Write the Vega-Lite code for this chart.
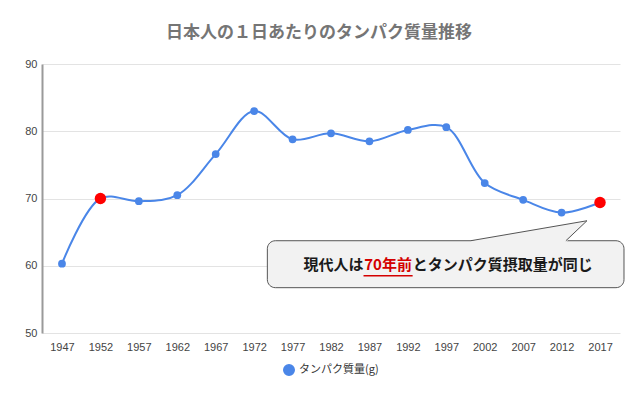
{
  "$schema": "https://vega.github.io/schema/vega-lite/v6.json",
  "autosize": "none",
  "width": 578,
  "height": 269,
  "padding": {"left": 42, "top": 64, "right": 20, "bottom": 67},
  "background": "white",
  "config": {
    "font": "Noto Sans CJK JP",
    "view": {"stroke": null},
    "axis": {"labelFont": "Liberation Sans", "labelFontSize": 11, "labelColor": "#444444", "ticks": false, "titleFont": "Liberation Sans"},
    "legend": {"layout": {"bottom": {"anchor": "middle"}}}
  },
  "title": {
    "text": "日本人の１日あたりのタンパク質量推移",
    "font": "Noto Sans CJK JP",
    "fontSize": 17,
    "fontWeight": "bold",
    "color": "#757575",
    "anchor": "middle",
    "frame": "group",
    "offset": 16,
    "dx": -12
  },
  "datasets": {
    "protein": [
      {"year": 1947, "value": 60.3},
      {"year": 1952, "value": 70.0},
      {"year": 1957, "value": 69.6},
      {"year": 1962, "value": 70.5},
      {"year": 1967, "value": 76.6},
      {"year": 1972, "value": 83.0},
      {"year": 1977, "value": 78.8},
      {"year": 1982, "value": 79.7},
      {"year": 1987, "value": 78.5},
      {"year": 1992, "value": 80.2},
      {"year": 1997, "value": 80.6},
      {"year": 2002, "value": 72.3},
      {"year": 2007, "value": 69.8},
      {"year": 2012, "value": 67.9},
      {"year": 2017, "value": 69.4}
    ],
    "tail_fill": [
      {"x": 2000.18, "y": 63.72, "y2": 63.5},
      {"x": 2012.56, "y": 66.15, "y2": 63.5},
      {"x": 2015.30, "y": 66.69, "y2": 66.69}
    ],
    "tail_edge": [
      {"i": 1, "x": 2000.18, "y": 63.72},
      {"i": 2, "x": 2015.30, "y": 66.69},
      {"i": 3, "x": 2012.56, "y": 63.72}
    ],
    "one": [{}]
  },
  "layer": [
    {
      "data": {"name": "protein"},
      "mark": {"type": "line", "interpolate": "catmull-rom", "strokeWidth": 2},
      "encoding": {
        "x": {
          "field": "year", "type": "quantitative",
          "scale": {"domain": [1944.4, 2019.6], "nice": false, "zero": false},
          "axis": {"title": null, "values": [1947,1952,1957,1962,1967,1972,1977,1982,1987,1992,1997,2002,2007,2012,2017], "format": "d", "grid": false, "domain": false, "labelPadding": 8, "labelFlush": false}
        },
        "y": {
          "field": "value", "type": "quantitative",
          "scale": {"domain": [50, 90], "nice": false, "zero": false},
          "axis": {"title": null, "values": [50,60,70,80,90], "gridColor": "#e3e3e3", "gridWidth": 1.2, "domainColor": "#9a9a9a", "domainWidth": 2, "labelPadding": 5}
        },
        "color": {
          "datum": "タンパク質量(g)",
          "scale": {"range": ["#4a86e8"]},
          "legend": {"orient": "bottom", "title": null, "symbolType": "circle", "symbolSize": 110, "symbolFillColor": "#4a86e8", "symbolStrokeColor": "#4a86e8", "labelFont": "Noto Sans CJK JP", "labelFontSize": 11, "labelColor": "#333333", "offset": 12, "direction": "horizontal"}
        }
      }
    },
    {
      "data": {"name": "protein"},
      "mark": {"type": "point", "filled": true, "opacity": 1, "size": 60},
      "encoding": {
        "x": {"field": "year", "type": "quantitative"},
        "y": {"field": "value", "type": "quantitative"},
        "color": {"datum": "タンパク質量(g)"}
      }
    },
    {
      "data": {"name": "protein"},
      "transform": [{"filter": {"field": "year", "oneOf": [1952, 2017]}}],
      "mark": {"type": "point", "filled": true, "opacity": 1, "size": 130, "color": "#ff0000"},
      "encoding": {
        "x": {"field": "year", "type": "quantitative"},
        "y": {"field": "value", "type": "quantitative"}
      }
    },
    {
      "data": {"name": "one"},
      "mark": {"type": "rect", "fill": "#f2f2f2", "stroke": "#555555", "strokeWidth": 1, "cornerRadius": 8},
      "encoding": {
        "x": {"datum": 1973.72, "type": "quantitative"},
        "x2": {"datum": 2020.12},
        "y": {"datum": 63.72, "type": "quantitative"},
        "y2": {"datum": 56.74}
      }
    },
    {
      "data": {"name": "tail_fill"},
      "mark": {"type": "area", "fill": "#f2f2f2", "opacity": 1},
      "encoding": {
        "x": {"field": "x", "type": "quantitative"},
        "y": {"field": "y", "type": "quantitative"},
        "y2": {"field": "y2"}
      }
    },
    {
      "data": {"name": "tail_edge"},
      "mark": {"type": "line", "color": "#555555", "strokeWidth": 1},
      "encoding": {
        "x": {"field": "x", "type": "quantitative"},
        "y": {"field": "y", "type": "quantitative"},
        "order": {"field": "i"}
      }
    },
    {
      "data": {"name": "one"},
      "mark": {"type": "text", "text": "現代人は", "align": "right", "baseline": "middle", "fontSize": 15, "fontWeight": "bold", "color": "#1a1a1a", "font": "Noto Sans CJK JP"},
      "encoding": {
        "x": {"datum": 1986.23, "type": "quantitative"},
        "y": {"datum": 60.1, "type": "quantitative"}
      }
    },
    {
      "data": {"name": "one"},
      "mark": {"type": "text", "text": "70年前", "align": "center", "baseline": "middle", "fontSize": 15, "fontWeight": "bold", "color": "#d40000", "font": "Noto Sans CJK JP"},
      "encoding": {
        "x": {"datum": 1989.43, "type": "quantitative"},
        "y": {"datum": 60.1, "type": "quantitative"}
      }
    },
    {
      "data": {"name": "one"},
      "mark": {"type": "text", "text": "とタンパク質摂取量が同じ", "align": "left", "baseline": "middle", "fontSize": 15, "fontWeight": "bold", "color": "#1a1a1a", "font": "Noto Sans CJK JP"},
      "encoding": {
        "x": {"datum": 1992.62, "type": "quantitative"},
        "y": {"datum": 60.1, "type": "quantitative"}
      }
    },
    {
      "data": {"name": "one"},
      "mark": {"type": "rule", "color": "#d40000", "strokeWidth": 1.5},
      "encoding": {
        "x": {"datum": 1986.23, "type": "quantitative"},
        "x2": {"datum": 1992.62},
        "y": {"datum": 58.5, "type": "quantitative"}
      }
    }
  ]
}
